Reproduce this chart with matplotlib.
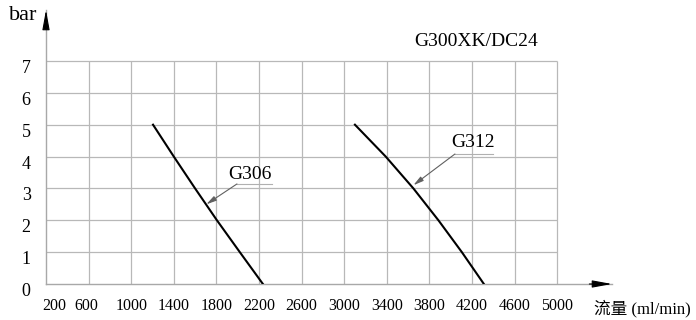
"""
G300XK/DC24 pump curves: pressure (bar) vs flow (ml/min) for G306 and G312.
"""

import matplotlib
matplotlib.use("Agg")
import matplotlib.pyplot as plt
import matplotlib.transforms as mtransforms

# ---------------------------------------------------------------------------
# Data
# ---------------------------------------------------------------------------

X_TICKS = [200, 600, 1000, 1400, 1800, 2200, 2600, 3000, 3400, 3800, 4200, 4600, 5000]
Y_TICKS = [0, 1, 2, 3, 4, 5, 6, 7]

G306_FLOW = [1205, 1400, 1600, 1805, 2020, 2237]
G306_BAR  = [5, 4, 3, 2, 1, 0]

G312_FLOW = [3101, 3390, 3650, 3885, 4105, 4312]
G312_BAR  = [5, 4, 3, 2, 1, 0]

TITLE  = "G300XK/DC24"
XLABEL = "流量 (ml/min)"
YLABEL = "bar"

# ---------------------------------------------------------------------------
# Style
# ---------------------------------------------------------------------------

SERIF = ["Liberation Serif", "Noto Sans CJK SC", "DejaVu Sans"]
GRID  = "#b8b8b8"
AXIS  = "#a8a8a8"
LEAD  = "#b0b0b0"

W, H, DPI = 696, 320, 100

fig = plt.figure(figsize=(W / DPI, H / DPI), dpi=DPI)
# axes box: y-axis at px 46, x-axis at px 284, arrow tips at (612, 10)
ax = fig.add_axes([46 / W, (H - 284) / H, (612 - 46) / W, (284 - 10) / H])
ax.set_xlim(200, 5515)
ax.set_ylim(0, 8.6)

for s in ax.spines.values():
    s.set_visible(False)

# grid
ax.vlines(X_TICKS[1:], 0, Y_TICKS[-1], color=GRID, lw=0.9, zorder=1)
ax.hlines(Y_TICKS[1:], X_TICKS[0], X_TICKS[-1], color=GRID, lw=0.9, zorder=1)

# axes lines with black arrowheads
ax.plot([0, 1], [0, 0], transform=ax.transAxes, color=AXIS, lw=1, clip_on=False, zorder=2)
ax.plot([0, 0], [0, 1], transform=ax.transAxes, color=AXIS, lw=1, clip_on=False, zorder=2)
head = dict(arrowstyle="-|>,head_length=1.2,head_width=0.22", color="black",
            lw=0.8, mutation_scale=10, shrinkA=0, shrinkB=0)
ax.annotate("", xy=(1, 0), xytext=(0.96, 0), xycoords="axes fraction",
            arrowprops=head, annotation_clip=False)
ax.annotate("", xy=(0, 1), xytext=(0, 0.93), xycoords="axes fraction",
            arrowprops=head, annotation_clip=False)

# curves
ax.plot(G306_FLOW, G306_BAR, color="black", lw=1.5, zorder=3)
ax.plot(G312_FLOW, G312_BAR, color="black", lw=1.5, zorder=3)

# ticks
ax.set_xticks(X_TICKS)
ax.set_xticklabels([str(v) for v in X_TICKS], family=SERIF, fontsize=11.5)
ax.set_yticks(Y_TICKS)
ax.set_yticklabels([str(v) for v in Y_TICKS], family=SERIF, fontsize=13)
ax.tick_params(axis="x", length=0, pad=10)
ax.tick_params(axis="y", length=0, pad=11)

# y labels sit a little below their grid lines
for lbl in ax.get_yticklabels():
    lbl.set_transform(lbl.get_transform() +
                      mtransforms.ScaledTranslation(0, -4 / 72, fig.dpi_scale_trans))
# "200" label nudged right, "600" slightly left, as in the drawing
xl = ax.get_xticklabels()
xl[0].set_transform(xl[0].get_transform() +
                    mtransforms.ScaledTranslation(6 / 72, 0, fig.dpi_scale_trans))
xl[1].set_transform(xl[1].get_transform() +
                    mtransforms.ScaledTranslation(-2 / 72, 0, fig.dpi_scale_trans))

# curve labels with leader lines
def label_curve(text, txt_xy, ul_x, ul_y, tip_xy):
    ax.text(txt_xy[0], txt_xy[1], text, family=SERIF, fontsize=14,
            ha="center", va="center", zorder=4)
    ax.plot(ul_x, [ul_y, ul_y], color=LEAD, lw=0.8, zorder=2)
    ax.annotate("", xy=tip_xy, xytext=(ul_x[0], ul_y),
                arrowprops=dict(arrowstyle="-|>,head_length=0.6,head_width=0.15",
                                color="#606060", lw=0.8, mutation_scale=10,
                                shrinkA=0, shrinkB=0),
                zorder=2)

label_curve("G306", (2115, 3.45), [1993, 2322], 3.14, (1705, 2.5))
label_curve("G312", (4209, 4.43), [4040, 4397], 4.08, (3650, 3.1))

# titles / axis names
fig.text(476 / W, 1 - 42 / H, TITLE, family=SERIF, fontsize=14,
         ha="center", va="center")
fig.text(23 / W, 1 - 15 / H, YLABEL, family=SERIF, fontsize=16,
         ha="center", va="center")
fig.text(642 / W, 1 - 309 / H, XLABEL, family=SERIF, fontsize=12,
         ha="center", va="center")

fig.savefig("out.png", dpi=DPI)
